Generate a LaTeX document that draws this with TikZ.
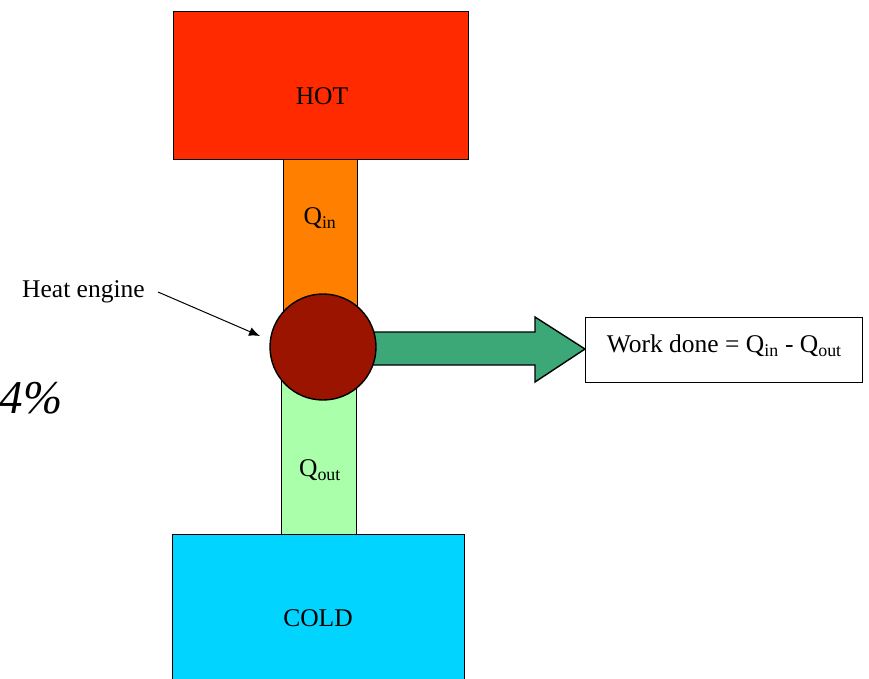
\documentclass[tikz,border=0pt]{standalone}
\usepackage{fontspec}
\setmainfont{Liberation Serif}
\usetikzlibrary{arrows.meta}
\begin{document}
\begin{tikzpicture}[x=1pt,y=-1pt,
  box/.style={draw=black,line width=1.4pt,inner sep=0pt,anchor=north west},
  lbl/.style={font=\fontsize{25.5}{27}\selectfont,inner sep=0pt}]
\definecolor{hotc}{HTML}{FF2A00}
\definecolor{pipein}{HTML}{FF7F00}
\definecolor{pipeout}{HTML}{AAFFAA}
\definecolor{engc}{HTML}{9A1400}
\definecolor{workc}{HTML}{3DA877}
\definecolor{coldc}{HTML}{00D4FF}
\useasboundingbox (0,0) rectangle (869,678);
\clip (0,0) rectangle (869,678);
% pipes
\node[box,fill=pipein,minimum width=74pt,minimum height=190pt] (qin) at (283,159) {};
\node[box,fill=pipeout,minimum width=75pt,minimum height=195pt] (qout) at (281,340) {};
% reservoirs
\node[box,fill=hotc,minimum width=295pt,minimum height=148pt] (hot) at (173,11) {};
\node[box,fill=coldc,minimum width=292pt,minimum height=160pt] (cold) at (172,534) {};
\node[lbl] (hottxt) at (322,96) {HOT};
\node[lbl] (coldtxt) at (318,618) {COLD};
\node[lbl] (qintxt) at (320,218) {Q\textsubscript{in}};
\node[lbl] (qouttxt) at (320,470) {Q\textsubscript{out}};
% work arrow
\coordinate (a0) at (360,332);
\coordinate (tip) at (585,349);
\draw[line width=1.4pt,fill=workc,line join=miter]
  (a0) -- (535,332) -- (535,317) -- (tip) -- (535,382) -- (535,365) -- (360,365) -- cycle;
% engine
\node[draw=black,line width=1.4pt,fill=engc,circle,minimum size=106pt,inner sep=0pt] (eng) at (323,347) {};
% work box
\node[box,fill=white,minimum width=277pt,minimum height=65pt] (work) at (585,317) {};
\node[lbl] (worktxt) at ([yshift=4pt]work.center) {Work done = Q\textsubscript{in} - Q\textsubscript{out}};
% heat engine label
\node[lbl,anchor=west] (he) at (22,292) {Heat engine};
\coordinate (hs) at (158,292);
\coordinate (het) at (260,336);
\draw[line width=1pt,-{Latex[length=11pt,width=9pt]}] (hs) -- (het);
% percent
\node[inner sep=0pt,font=\fontsize{47}{50}\selectfont\itshape] (pct) at (31,398) {4\%};
\end{tikzpicture}
\end{document}
